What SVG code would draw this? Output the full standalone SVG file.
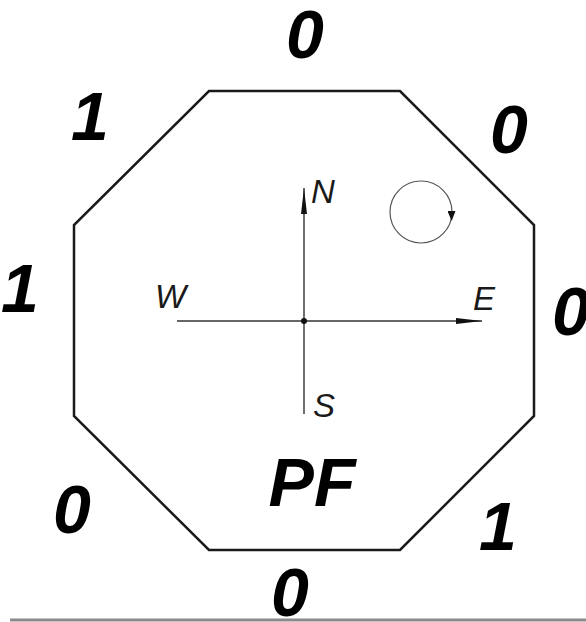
<svg xmlns="http://www.w3.org/2000/svg" width="586" height="622" viewBox="0 0 586 622">
<style>
.oct{fill:none;stroke:#1a1a1a;stroke-width:2.5;stroke-linejoin:miter}
.ax{stroke:#333;stroke-width:1.4;fill:none}
.dir{font-family:"Liberation Sans",Arial,sans-serif;font-style:italic;font-size:33px;fill:#1a1a1a}
.bit{font-family:"Liberation Sans",Arial,sans-serif;font-style:italic;font-weight:bold;font-size:68px;fill:#000;text-anchor:middle}
</style>
<defs>
<marker id="ah" viewBox="0 0 26 8" refX="26" refY="4" markerWidth="26" markerHeight="8" markerUnits="userSpaceOnUse" orient="auto">
<path d="M0,1 L26,4 L0,7 Z" fill="#111"/>
</marker>
<marker id="ch" viewBox="0 0 10 8" refX="5" refY="4" markerWidth="10" markerHeight="8" markerUnits="userSpaceOnUse" orient="auto">
<path d="M0,0 L10,4 L0,8 Z" fill="#111"/>
</marker>
</defs>
<g id="octagon">
<polygon class="oct" points="209,91 400,91 534,225 534,416 400,550 209,550 74,416 74,225"/>
</g>
<g id="connectors">
<line class="ax" x1="304" y1="414" x2="304" y2="188" marker-end="url(#ah)"/>
<line class="ax" x1="177" y1="321" x2="482" y2="321" marker-end="url(#ah)"/>
<circle cx="304" cy="321" r="3" fill="#111"/>
</g>
<g id="rotation">
<circle cx="421" cy="212" r="31" fill="none" stroke="#555" stroke-width="1.2"/>
<path d="M451.5,209 L451.6,216" fill="none" stroke="none" marker-end="url(#ch)"/>
</g>
<g id="compass-labels">
<text class="dir" x="311" y="203">N</text>
<text class="dir" x="155" y="308">W</text>
<text class="dir" x="473" y="310">E</text>
<text class="dir" x="313" y="417">S</text>
</g>
<g id="bits">
<text class="bit" x="305" y="58">0</text>
<text class="bit" x="90" y="140">1</text>
<text class="bit" x="509" y="153">0</text>
<text class="bit" x="20" y="312">1</text>
<text class="bit" x="571" y="335">0</text>
<text class="bit" x="72" y="533">0</text>
<text class="bit" x="498" y="550">1</text>
<text class="bit" x="290" y="616">0</text>
</g>
<g id="pf">
<text class="bit" x="312" y="506" font-size="72">PF</text>
</g>
<line x1="10" y1="620" x2="586" y2="620" stroke="#8a8a8a" stroke-width="3"/>
</svg>
